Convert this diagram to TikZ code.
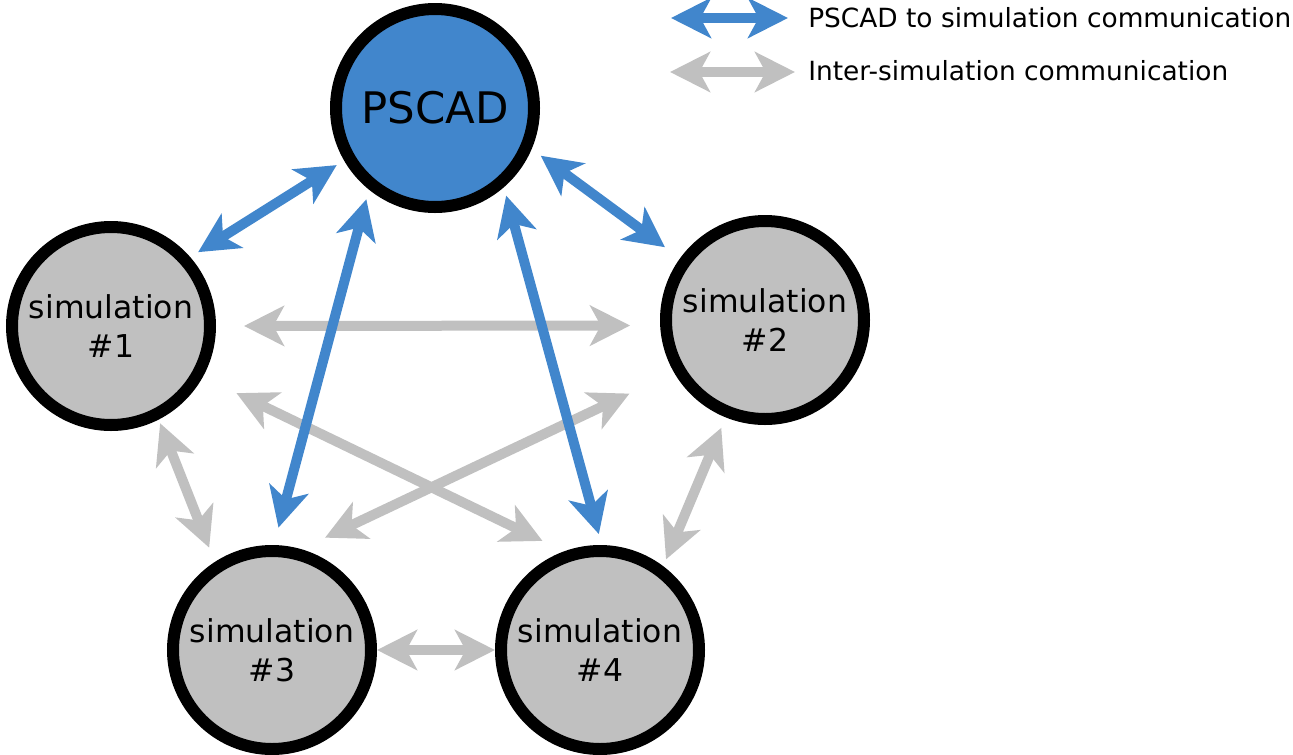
\documentclass[tikz,border=0pt]{standalone}
\usepackage{fontspec}
\setmainfont{DejaVu Sans}
\usetikzlibrary{arrows.meta}
\definecolor{pscadblue}{RGB}{65,134,204}
\definecolor{linkgray}{RGB}{192,192,192}
\begin{document}
\begin{tikzpicture}[x = 0.75pt, y = 0.75pt, yscale = -1, xscale = 1,
  bigtip/.tip = {Stealth[length = 30pt, width = 30pt, inset = 8pt]},
  simnode/.style = {circle, draw = black, line width = 9pt, fill = linkgray, minimum size = 148.5pt, inner sep = 0pt, align = center, font = \fontsize{23.6}{29.5}\selectfont},
  pscadnode/.style = {simnode, fill = pscadblue, font = \fontsize{32.6}{36}\selectfont},
  bluelink/.style = {draw = pscadblue, line width = 7.5pt, bigtip-bigtip},
  graylink/.style = {draw = linkgray, line width = 7.5pt, bigtip-bigtip},
  legend/.style = {anchor = west, inner sep = 0pt, font = \fontsize{19.8}{23}\selectfont}]
\useasboundingbox (0, 0) rectangle (1293, 754);
\node [pscadnode] (pscad) at (435, 108) {PSCAD};
\node [simnode] (sim1) at (111, 326) {simulation\\\#1};
\node [simnode] (sim2) at (765, 320) {simulation\\\#2};
\node [simnode] (sim3) at (272, 650) {simulation\\\#3};
\node [simnode] (sim4) at (600, 650) {simulation\\\#4};
\draw [graylink, shorten <= 21pt, shorten >= 22.5pt] (sim1.0) -- (sim2.-177);
\draw [graylink, shorten <= 28pt, shorten >= 18pt] (sim1.-29) -- (sim4.110);
\draw [graylink, shorten <= 20pt, shorten >= 37pt] (sim3.74) -- (sim2.210);
\draw [graylink, shorten <= 3pt, shorten >= 11.5pt] (sim1.-63) -- (sim3.123);
\draw [graylink] (sim3) -- (sim4);
\draw [graylink, shorten <= 5.5pt, shorten >= 8.5pt] (sim4.53) -- (sim2.-112);
\draw [bluelink, shorten <= 6.5pt, shorten >= 7pt] (pscad.-150) -- (sim1.41);
\draw [bluelink, shorten <= 7.5pt, shorten >= 13.5pt] (pscad.-129) -- (sim3.89);
\draw [bluelink, shorten <= 8.5pt, shorten >= 14pt] (pscad.-23) -- (sim2.144);
\draw [bluelink, shorten <= 6.5pt, shorten >= 8.5pt] (pscad.-49) -- (sim4.89);
\coordinate (keyblueA) at (671, 18);
\coordinate (keyblueB) at (788, 18);
\coordinate (keygrayA) at (670, 72);
\coordinate (keygrayB) at (795, 72);
\draw [bluelink] (keyblueA) -- (keyblueB);
\draw [graylink] (keygrayA) -- (keygrayB);
\node [legend] (keybluetext) at (808, 18) {PSCAD to simulation communication};
\node [legend] (keygraytext) at (808, 71) {Inter-simulation communication};
\end{tikzpicture}
\end{document}
